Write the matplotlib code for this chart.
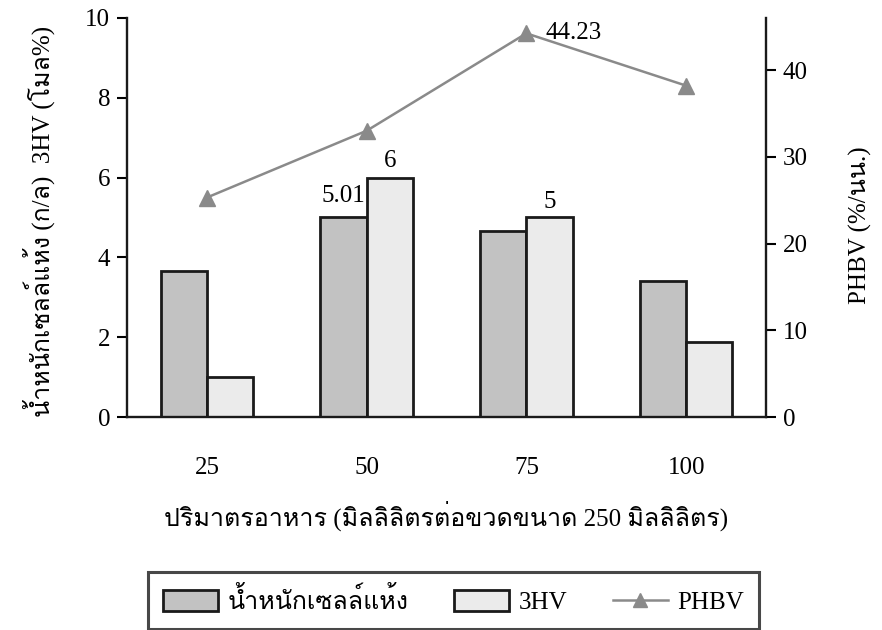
import matplotlib
matplotlib.use("Agg")
import matplotlib.pyplot as plt
from matplotlib import font_manager
from matplotlib.ft2font import FT2Font
from matplotlib.patches import Patch
from matplotlib.lines import Line2D

# ---- data ----
categories = ["25", "50", "75", "100"]
dry_weight = [3.65, 5.01, 4.65, 3.42]     # g/L
hv3 = [1.0, 6, 5, 1.88]                   # mol%
phbv = [25.3, 33.0, 44.23, 38.2]          # %/wt
ylabel_left = "น้ำหนักเซลล์แห้ง (ก/ล)  3HV (โมล%)"
ylabel_right = "PHBV (%/นน.)"
xlabel = "ปริมาตรอาหาร (มิลลิลิตรต่อขวดขนาด 250 มิลลิลิตร)"
legend_labels = ["น้ำหนักเซลล์แห้ง", "3HV", "PHBV"]

# ---- find a font with Thai glyphs ----
thai_fams = []
for f in font_manager.fontManager.ttflist:
    try:
        cm = FT2Font(f.fname).get_charmap()
    except Exception:
        continue
    if 0x0E01 in cm and f.name not in thai_fams:
        thai_fams.append(f.name)
fams = ["Liberation Serif"] + thai_fams + ["DejaVu Serif", "DejaVu Sans"]
plt.rcParams["font.family"] = fams

FS = 18
DARK = "#c2c2c2"
LIGHT = "#ebebeb"
EDGE = "#1a1a1a"
LINEC = "#8a8a8a"

W, H = 882, 630
fig = plt.figure(figsize=(W / 100, H / 100), dpi=100)
L, R, B, T = 127, 766, 417, 18
ax = fig.add_axes([L / W, 1 - B / H, (R - L) / W, (B - T) / H])
x = list(range(len(categories)))
w = 0.29
ax.bar([i - w / 2 for i in x], dry_weight, width=w, color=DARK,
       edgecolor=EDGE, linewidth=2, zorder=2)
ax.bar([i + w / 2 for i in x], hv3, width=w, color=LIGHT,
       edgecolor=EDGE, linewidth=2, zorder=2)
ax.set_xlim(-0.5, 3.5)
ax.set_ylim(0, 10)
ax.set_yticks([0, 2, 4, 6, 8, 10])
ax.set_xticks(x)
ax.set_xticklabels(categories, fontsize=FS)
ax.tick_params(axis="x", length=0, pad=29)
ax.tick_params(axis="y", direction="out", length=7, width=1.5, labelsize=FS, pad=5)
for s in ["top", "right"]:
    ax.spines[s].set_visible(False)
for s in ["left", "bottom"]:
    ax.spines[s].set_linewidth(1.7)
    ax.spines[s].set_color(EDGE)

# value labels
ax.text(1 - w / 2, dry_weight[1] + 0.25, f"{dry_weight[1]:.2f}", ha="center", va="bottom", fontsize=FS)
ax.text(1 + w / 2, hv3[1] + 0.15, f"{hv3[1]:g}", ha="center", va="bottom", fontsize=FS)
ax.text(2 + w / 2, hv3[2] + 0.12, f"{hv3[2]:g}", ha="center", va="bottom", fontsize=FS)

ax2 = ax.twinx()
ax2.plot(x, phbv, color=LINEC, linewidth=1.8, marker="^", markersize=11,
         markeredgecolor=LINEC, markerfacecolor=LINEC, zorder=3)
ax2.set_ylim(0, 46)
ax2.set_yticks([0, 10, 20, 30, 40])
ax2.tick_params(axis="y", direction="out", length=7, width=1.5, labelsize=FS, pad=5)
for s in ["top", "left", "bottom"]:
    ax2.spines[s].set_visible(False)
ax2.spines["right"].set_linewidth(1.7)
ax2.spines["right"].set_color(EDGE)
ax2.text(2 + 0.12, phbv[2], f"{phbv[2]:.2f}", ha="left", va="center", fontsize=FS)

ax.set_ylabel(ylabel_left, fontsize=FS)
ax.yaxis.set_label_coords(-0.113, 0.49)
ax2.set_ylabel(ylabel_right, fontsize=FS)
ax2.yaxis.set_label_coords(1.13, 0.48)
ax.set_xlabel(xlabel, fontsize=FS)
ax.xaxis.set_label_coords(0.5, -0.21)

handles = [
    Patch(facecolor=DARK, edgecolor=EDGE, linewidth=2),
    Patch(facecolor=LIGHT, edgecolor=EDGE, linewidth=2),
    Line2D([0], [0], color=LINEC, linewidth=1.8, marker="^", markersize=10,
           markeredgecolor=LINEC, markerfacecolor=LINEC),
]
leg = fig.legend(handles, legend_labels, loc="upper left",
                 bbox_to_anchor=(148 / W, 1 - 572 / H), borderaxespad=0,
                 ncol=3, fontsize=FS, frameon=True, fancybox=False, edgecolor=EDGE,
                 handlelength=2.2, handleheight=0.9, handletextpad=0.4,
                 columnspacing=1.8, borderpad=0.6)
leg.get_frame().set_linewidth(2.2)

fig.savefig("out.png", dpi=100)
